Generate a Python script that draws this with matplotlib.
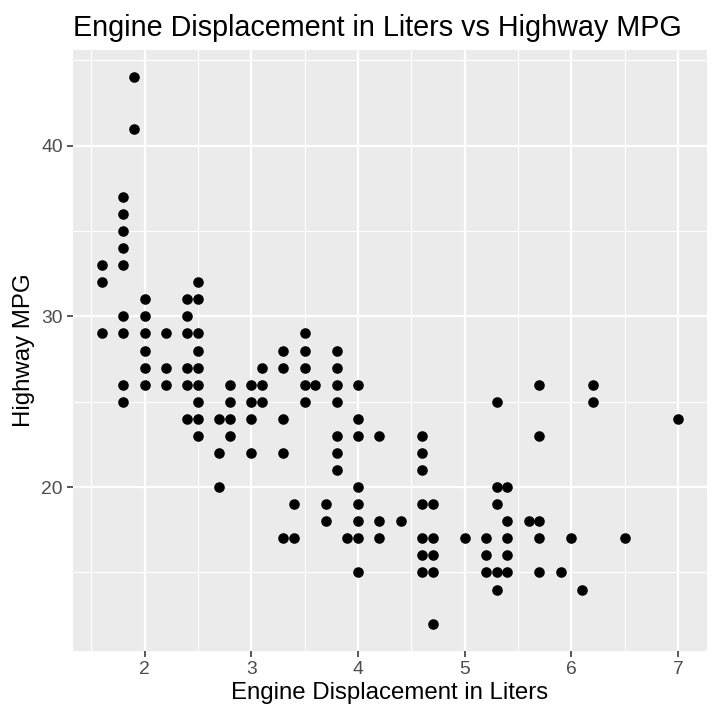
import matplotlib
matplotlib.use("Agg")
import matplotlib.pyplot as plt
from matplotlib.ticker import MultipleLocator

plt.rcParams['font.family'] = ['Liberation Sans', 'DejaVu Sans']

# unique (displ, hwy) pairs
displ = ([1.6] * 3 + [1.8] * 9 + [1.9] * 2 + [2.0] * 6 + [2.2] * 3 + [2.4] * 6
         + [2.5] * 9 + [2.7] * 3 + [2.8] * 4 + [3.0] * 4 + [3.1] * 3 + [3.3] * 5
         + [3.4] * 2 + [3.5] * 5 + [3.6] + [3.7] * 2 + [3.8] * 7 + [3.9]
         + [4.0] * 8 + [4.2] * 3 + [4.4] + [4.6] * 7 + [4.7] * 5 + [5.0]
         + [5.2] * 3 + [5.3] * 5 + [5.4] * 5 + [5.6] + [5.7] * 5 + [5.9]
         + [6.0] + [6.1] + [6.2] * 2 + [6.5] + [7.0])
hwy = ([33, 32, 29]
       + [37, 36, 35, 34, 33, 30, 29, 26, 25]
       + [44, 41]
       + [31, 30, 29, 28, 27, 26]
       + [29, 27, 26]
       + [31, 30, 29, 27, 26, 24]
       + [32, 31, 29, 28, 27, 26, 25, 24, 23]
       + [24, 22, 20]
       + [26, 25, 24, 23]
       + [26, 25, 24, 22]
       + [27, 26, 25]
       + [28, 27, 24, 22, 17]
       + [19, 17]
       + [29, 28, 27, 26, 25]
       + [26]
       + [19, 18]
       + [28, 27, 26, 25, 23, 22, 21]
       + [17]
       + [26, 24, 23, 20, 19, 18, 17, 15]
       + [23, 18, 17]
       + [18]
       + [23, 22, 21, 19, 17, 16, 15]
       + [19, 17, 16, 15, 12]
       + [17]
       + [17, 16, 15]
       + [25, 20, 19, 15, 14]
       + [20, 18, 17, 16, 15]
       + [18]
       + [26, 23, 18, 17, 15]
       + [15]
       + [17]
       + [14]
       + [26, 25]
       + [17]
       + [24])

fig = plt.figure(figsize=(5, 5), dpi=144)
ax = fig.add_axes([73 / 720, 69 / 720, 634 / 720, 601 / 720])
ax.set_facecolor('#EBEBEB')
for s in ax.spines.values():
    s.set_visible(False)

ax.scatter(displ, hwy, s=28, color='black', linewidths=0, zorder=3)

xr = max(displ) - min(displ)
yr = max(hwy) - min(hwy)
ax.set_xlim(min(displ) - 0.05 * xr, max(displ) + 0.05 * xr)
ax.set_ylim(min(hwy) - 0.05 * yr, max(hwy) + 0.05 * yr)

ax.xaxis.set_major_locator(MultipleLocator(1))
ax.yaxis.set_major_locator(MultipleLocator(10))
ax.xaxis.set_minor_locator(MultipleLocator(0.5))
ax.yaxis.set_minor_locator(MultipleLocator(5))
ax.grid(which='major', color='white', linewidth=1.1)
ax.grid(which='minor', color='white', linewidth=0.55)
ax.set_axisbelow(True)
ax.tick_params(which='major', length=3, width=0.8, color='#333333',
               labelsize=9.6, labelcolor='#4D4D4D', pad=2)
ax.tick_params(which='minor', length=0)

ax.set_xlabel('Engine Displacement in Liters', fontsize=12, color='black', labelpad=2)
ax.set_ylabel('Highway MPG', fontsize=12, color='black', labelpad=3)
ax.set_title('Engine Displacement in Liters vs Highway MPG', fontsize=14.4,
             loc='left', pad=7)

fig.savefig('out.png', dpi=144)
